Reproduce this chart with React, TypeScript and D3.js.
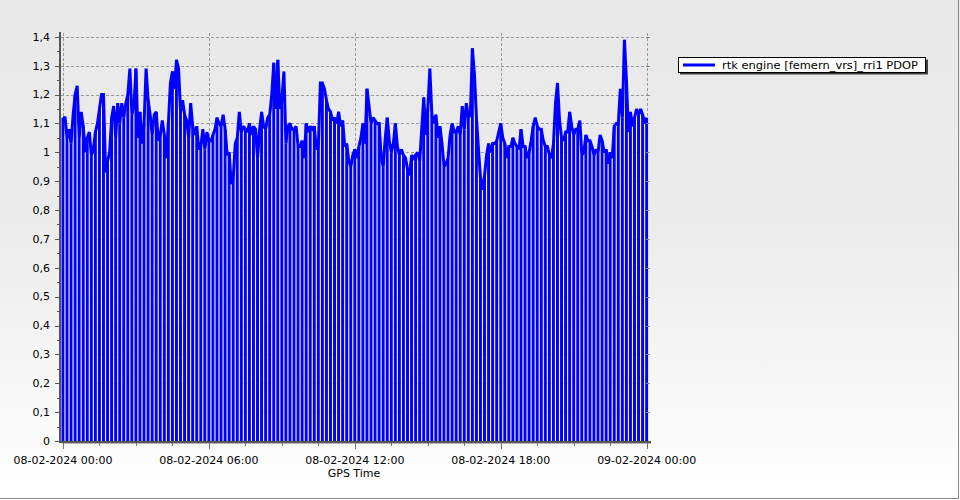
import React from "react";
import * as d3 from "d3";

// ---- data ----
const startTime = new Date(2024, 1, 8, 0, 0, 0);
const stepMinutes = 5;
const pdopValues: number[] = [
  1.12,1.12,1.05,1.08,1.03,1.13,1.20,1.23,1.05,1.14,
  1.09,1.00,1.05,1.07,0.99,1.01,1.07,1.10,1.15,1.20,
  1.20,0.93,0.97,1.00,1.12,1.16,1.05,1.17,1.10,1.17,
  1.12,1.17,1.20,1.29,1.13,1.16,1.29,1.05,1.14,1.03,
  1.10,1.29,1.18,1.13,1.06,1.13,1.14,1.04,
  1.06,1.11,1.06,0.98,1.10,1.24,1.28,1.22,1.32,1.29,
  1.14,1.18,1.13,1.11,1.05,1.17,1.09,1.06,1.09,1.01,
  1.02,1.08,1.01,1.07,1.04,1.04,1.06,1.08,1.12,1.10,
  1.09,1.13,1.08,0.99,1.00,0.89,0.91,1.03,1.05,1.14,
  1.07,1.09,1.08,1.07,1.10,1.06,1.09,1.08,
  0.98,1.08,1.14,1.09,1.08,1.12,1.13,1.20,1.31,1.15,
  1.32,1.15,1.18,1.28,1.03,1.09,1.10,1.08,1.08,1.09,
  1.02,1.02,1.04,0.98,1.10,1.07,1.09,1.08,1.09,1.01,
  1.02,1.24,1.24,1.22,1.18,1.15,1.14,1.11,1.12,1.10,
  1.14,1.09,1.11,1.02,1.03,0.97,0.95,0.99,1.01,
  0.98,1.02,1.05,1.10,1.03,1.22,1.16,1.10,1.12,1.11,
  1.10,1.10,0.98,0.95,1.05,1.12,1.04,1.00,1.03,1.10,
  1.02,0.99,1.01,0.99,0.98,0.94,0.92,0.99,0.98,0.99,
  1.00,0.97,1.08,1.19,1.06,1.15,1.29,1.13,1.10,1.13,
  1.05,1.09,1.03,0.95,0.96,0.98,1.06,1.10,
  1.07,1.07,1.09,1.06,1.16,1.08,1.17,1.12,1.13,1.36,
  1.27,1.12,1.01,0.91,0.87,0.92,0.99,1.03,1.00,1.03,
  1.03,1.04,1.07,1.10,1.05,1.03,0.98,1.02,1.02,1.05,
  1.03,1.02,1.01,1.08,1.02,1.02,0.98,1.00,1.04,1.09,
  1.12,1.09,1.08,1.08,1.04,1.02,1.02,0.99,
  0.98,1.03,1.17,1.24,1.11,1.05,1.04,1.07,1.07,1.14,
  1.09,1.06,1.08,1.08,1.11,0.99,1.00,1.06,1.04,1.04,
  1.02,0.99,1.01,1.00,1.06,1.04,1.00,1.01,0.96,1.00,
  0.98,1.09,1.10,1.10,1.22,1.12,1.39,1.25,1.07,1.14,
  1.09,1.12,1.15,1.13,1.15,1.13,1.10,1.12,
];
const yTicks: number[] = [0, 0.1, 0.2, 0.3, 0.4, 0.5, 0.6, 0.7, 0.8, 0.9, 1, 1.1, 1.2, 1.3, 1.4];
const xTickHours: number[] = [0, 6, 12, 18, 24];
const seriesName = "rtk engine [femern_vrs]_rri1 PDOP";
const xAxisTitle = "GPS Time";

const W = 960;
const H = 500;
const FONT = "'DejaVu Sans', Verdana, sans-serif";
const BLUE = "#0000ff";

export default function App() {
  const points = pdopValues.map((v, i) => ({
    t: new Date(startTime.getTime() + i * stepMinutes * 60000),
    v,
  }));
  const endTime = new Date(startTime.getTime() + 24 * 3600000);
  const x = d3.scaleTime().domain([startTime, endTime]).range([63, 646.7]);
  const y = d3.scaleLinear().domain([0, 1.4]).range([441, 36.8]);

  const line = d3
    .line<{ t: Date; v: number }>()
    .x((d) => x(d.t))
    .y((d) => y(d.v));

  const barPts = points.filter((_, i) => i % 2 === 0);
  const barStep = x(points[2].t) - x(points[0].t);

  const fmt = (d: Date) => d3.timeFormat("%d-%m-%Y %H:%M")(d);
  const majorTicks = xTickHours.map((h) => new Date(startTime.getTime() + h * 3600000));
  const minorTicks = d3.range(0, 24.01, 1.5).map((h) => new Date(startTime.getTime() + h * 3600000));
  const yMinor = d3.range(0.05, 1.4, 0.1);

  return (
    <svg
      width={W}
      height={H}
      style={{ position: "absolute", left: 0, top: 0, display: "block" }}
      fontFamily={FONT}
    >
      <defs>
        <linearGradient id="bg" x1="0" y1="0" x2="0" y2="1">
          <stop offset="0" stopColor="#e8e8e8" />
          <stop offset="0.45" stopColor="#ececec" />
          <stop offset="1" stopColor="#ffffff" />
        </linearGradient>
      </defs>
      <rect x={0} y={0} width={W} height={H} fill="url(#bg)" />
      <line x1={0} x2={959} y1={498.5} y2={498.5} stroke="#8a8a8a" />
      <line x1={958.5} x2={958.5} y1={0} y2={499} stroke="#8a8a8a" />

      {/* grid */}
      {yTicks.map((t) => (
        <line
          key={"gy" + t}
          x1={61}
          x2={649}
          y1={Math.round(y(t)) + 0.5}
          y2={Math.round(y(t)) + 0.5}
          stroke="#9a9a9a"
          strokeDasharray="3,2"
        />
      ))}
      {majorTicks.map((t, i) => (
        <line
          key={"gx" + i}
          x1={Math.round(x(t)) + 0.5}
          x2={Math.round(x(t)) + 0.5}
          y1={33}
          y2={441}
          stroke="#9a9a9a"
          strokeDasharray="3,2"
        />
      ))}

      {/* bars */}
      {barPts.map((d, i) => (
        <rect
          key={"bw" + i}
          x={x(d.t) - barStep / 2}
          y={y(d.v)}
          width={barStep}
          height={y(0) - y(d.v)}
          fill="#ffffff"
        />
      ))}
      {barPts.map((d, i) => (
        <rect
          key={"bb" + i}
          x={x(d.t) - barStep / 2 + 0.5}
          y={y(d.v)}
          width={barStep - 1.1}
          height={y(0) - y(d.v)}
          fill={BLUE}
        />
      ))}
      <path d={line(points) || ""} fill="none" stroke={BLUE} strokeWidth={3} strokeLinejoin="miter" strokeMiterlimit={2} />

      {/* right-side ticks */}
      {yTicks.map((t) => (
        <line key={"rt" + t} x1={646} x2={650} y1={Math.round(y(t)) + 0.5} y2={Math.round(y(t)) + 0.5} stroke="#888" />
      ))}

      {/* axes */}
      <line x1={60} x2={60} y1={32} y2={443} stroke="#555" strokeWidth={2} />
      <line x1={59} x2={651} y1={442} y2={442} stroke="#555" strokeWidth={2} />
      <line x1={62} x2={651} y1={443.5} y2={443.5} stroke="#bbb" strokeWidth={1} />

      {yTicks.map((t) => (
        <g key={"yt" + t}>
          <line x1={55} x2={59} y1={Math.round(y(t)) + 0.5} y2={Math.round(y(t)) + 0.5} stroke="#555" />
          <text x={50} y={y(t)} dy="0.35em" textAnchor="end" fontSize={11} fill="#000">
            {String(t).replace(".", ",")}
          </text>
        </g>
      ))}
      {yMinor.map((t) => (
        <line key={"ym" + t} x1={57} x2={59} y1={Math.round(y(t)) + 0.5} y2={Math.round(y(t)) + 0.5} stroke="#555" />
      ))}

      {minorTicks.map((t, i) => (
        <line key={"xm" + i} x1={Math.round(x(t)) + 0.5} x2={Math.round(x(t)) + 0.5} y1={443} y2={446} stroke="#777" />
      ))}
      {majorTicks.map((t, i) => (
        <g key={"xt" + i}>
          <line x1={Math.round(x(t)) + 0.5} x2={Math.round(x(t)) + 0.5} y1={443} y2={449} stroke="#777" />
          <text x={x(t)} y={464} textAnchor="middle" fontSize={11} fill="#000">
            {fmt(t)}
          </text>
        </g>
      ))}
      <text x={354} y={477} textAnchor="middle" fontSize={11} fill="#000">
        {xAxisTitle}
      </text>

      {/* legend */}
      <rect x={680} y={59.5} width={248} height={15} fill="#404040" />
      <rect x={678.5} y={57.5} width={247} height={15} fill="#ffffff" stroke="#000" />
      <line x1={683} x2={715} y1={65} y2={65} stroke={BLUE} strokeWidth={3} />
      <text x={722} y={65} dy="0.35em" fontSize={11} fill="#000" textLength={196} lengthAdjust="spacingAndGlyphs">
        {seriesName}
      </text>
    </svg>
  );
}
